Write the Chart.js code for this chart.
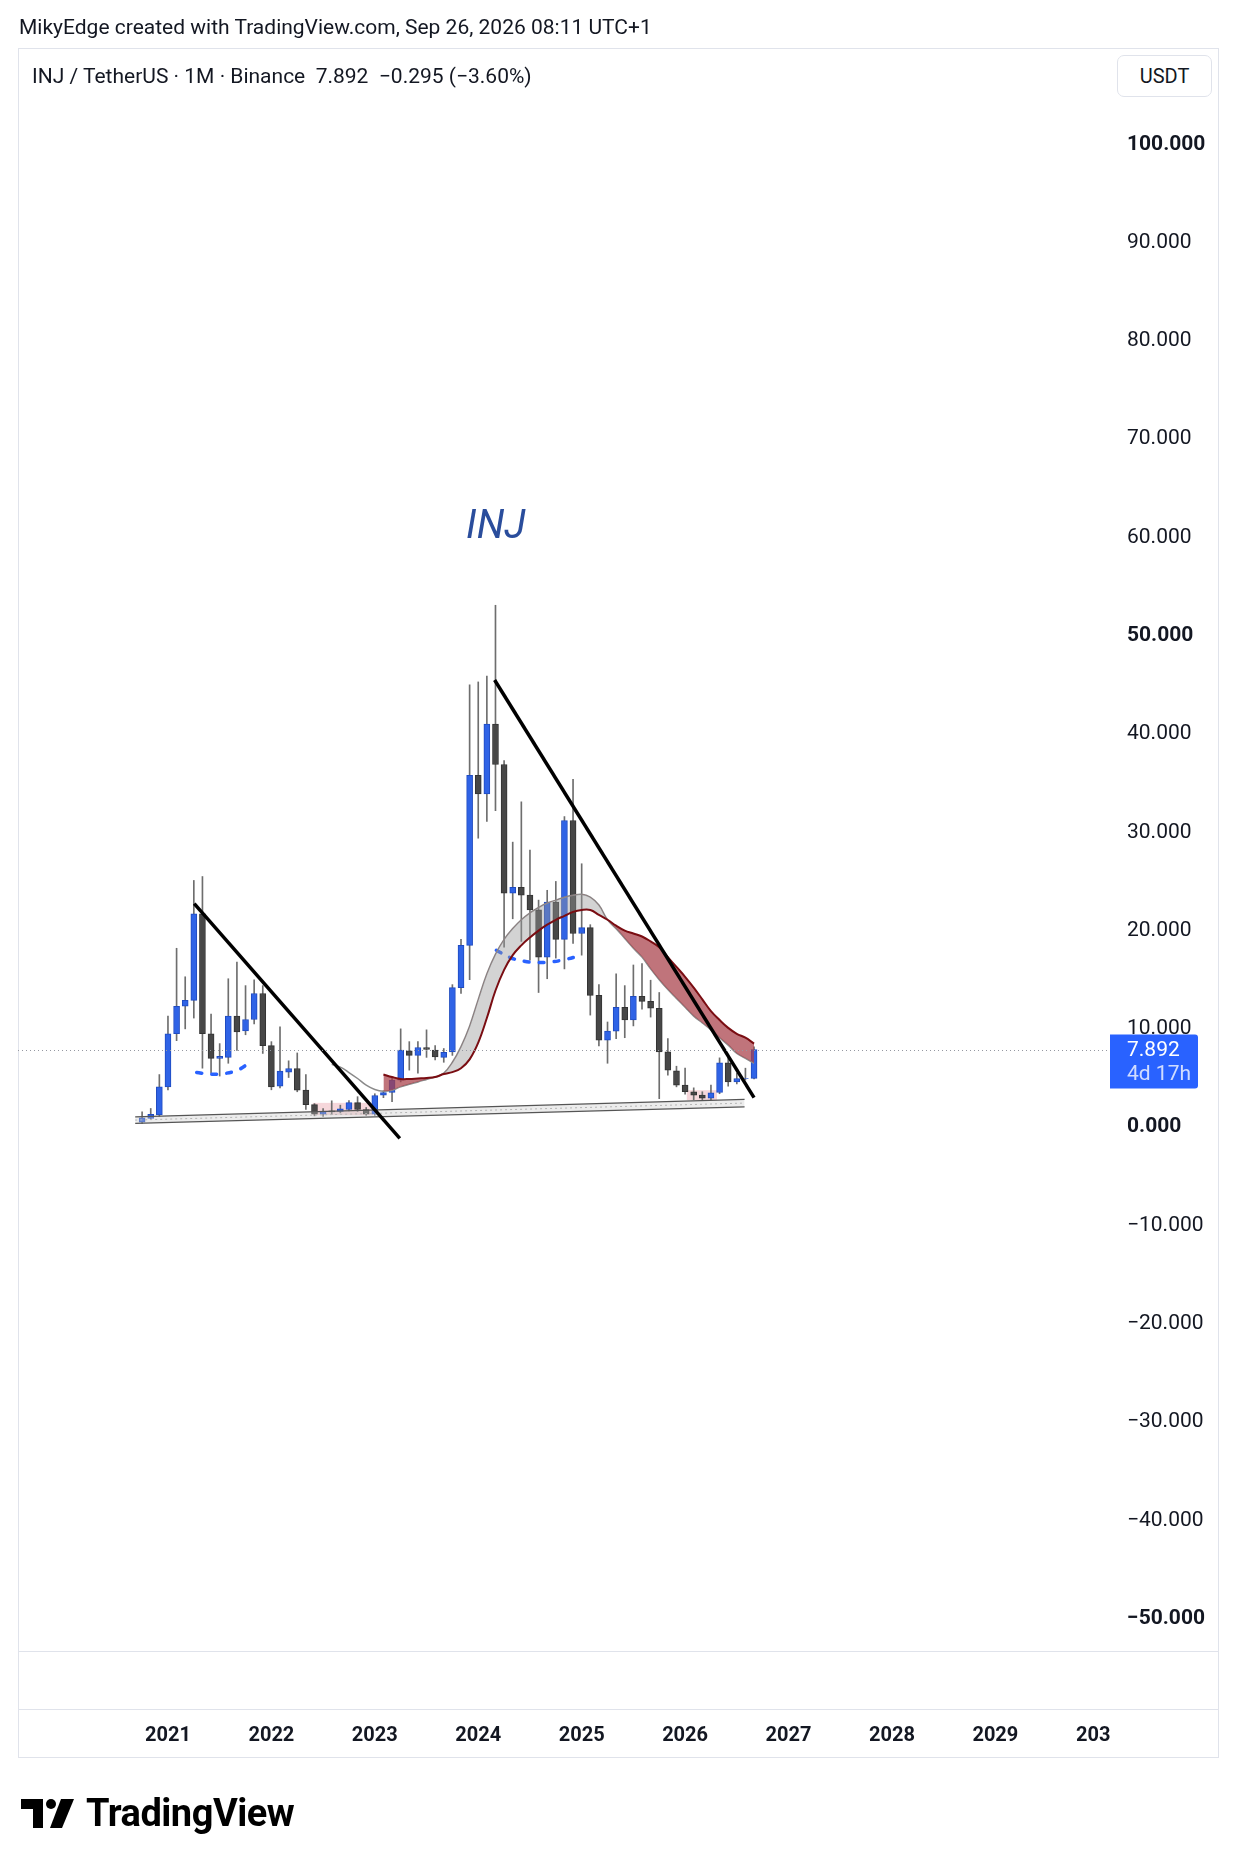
<!DOCTYPE html>
<html>
<head>
<meta charset="utf-8">
<script src="https://cdn.jsdelivr.net/npm/chart.js@4.4.1/dist/chart.umd.min.js"></script>
<style>
  body { margin: 0; background: #fff; font-family: Roboto, "Noto Sans", sans-serif; color: #131722; }
  #wrap { position: relative; width: 1236px; height: 1864px; overflow: hidden; }
  #chart { position: absolute; left: 0; top: 0; }
  .hdr { position: absolute; left: 19px; top: 15px; font-size: 21px; line-height: 24px; white-space: pre; }
  .legend { position: absolute; left: 32px; top: 64px; font-size: 21px; line-height: 24px; white-space: pre; }
  .usdt { position: absolute; left: 1117px; top: 55px; width: 95px; height: 42px; border: 1px solid #e0e3eb;
          border-radius: 7px; box-sizing: border-box; text-align: center; line-height: 40px; font-size: 20px; background: #fff; }
  .logo { position: absolute; left: 21px; top: 1791px; display: flex; align-items: center; }
  .logo span { font-size: 38px; font-weight: bold; margin-left: 12px; letter-spacing: -0.5px; color: #000; }
</style>
</head>
<body>
<div id="wrap">
  <canvas id="chart" width="1236" height="1864"></canvas>
  <div class="hdr">MikyEdge created with TradingView.com, Sep 26, 2026 08:11 UTC+1</div>
  <div class="legend">INJ / TetherUS · 1M · Binance  7.892  −0.295 (−3.60%)</div>
  <div class="usdt">USDT</div>
  <div class="logo">
    <svg width="53" height="29" viewBox="0 0 53 29">
      <path d="M0 0 H22 V29 H12 V10 H0 Z" fill="#000"/>
      <circle cx="30" cy="5" r="5" fill="#000"/>
      <path d="M40 0 H53 L41 29 H29 Z" fill="#000"/>
    </svg>
    <span>TradingView</span>
  </div>
</div>
<script>
// monthly candles, Oct 2020 .. Sep 2026 (x = months since Jan 2021)
var months = ['Oct 2020','Nov 2020','Dec 2020',
  'Jan 2021','Feb 2021','Mar 2021','Apr 2021','May 2021','Jun 2021','Jul 2021','Aug 2021','Sep 2021','Oct 2021','Nov 2021','Dec 2021',
  'Jan 2022','Feb 2022','Mar 2022','Apr 2022','May 2022','Jun 2022','Jul 2022','Aug 2022','Sep 2022','Oct 2022','Nov 2022','Dec 2022',
  'Jan 2023','Feb 2023','Mar 2023','Apr 2023','May 2023','Jun 2023','Jul 2023','Aug 2023','Sep 2023','Oct 2023','Nov 2023','Dec 2023',
  'Jan 2024','Feb 2024','Mar 2024','Apr 2024','May 2024','Jun 2024','Jul 2024','Aug 2024','Sep 2024','Oct 2024','Nov 2024','Dec 2024',
  'Jan 2025','Feb 2025','Mar 2025','Apr 2025','May 2025','Jun 2025','Jul 2025','Aug 2025','Sep 2025','Oct 2025','Nov 2025','Dec 2025',
  'Jan 2026','Feb 2026','Mar 2026','Apr 2026','May 2026','Jun 2026','Jul 2026','Aug 2026','Sep 2026'];
var firstMonth = -3;

var opens = [0.5, 0.9, 1.25,
  4.1, 9.5, 12.3, 12.9, 21.7, 9.5, 7.0, 7.1, 11.3, 9.8, 10.95, 13.6,
  8.3, 4.17, 5.6, 5.97, 3.76, 2.3, 1.32, 1.66, 1.6, 1.8, 2.5, 1.8,
  1.32, 3.26, 3.53, 4.78, 7.76, 7.3, 8.1, 7.83, 7.1, 7.66, 14.2, 18.5,
  35.8, 33.9, 41.0, 36.9, 23.8, 24.4, 23.6, 22.1, 17.3, 22.9, 19.1, 31.2,
  19.7, 20.3, 13.4, 8.85, 9.77, 12.2, 10.9, 13.3, 12.8, 12.1, 7.66, 5.73,
  4.27, 3.6, 3.26, 2.95, 3.53, 6.54, 4.6, 4.95, 4.97];
var highs = [1.55, 1.9, 5.35,
  11.3, 18.2, 15.3, 25.1, 25.5, 11.5, 8.5, 15.1, 16.8, 14.4, 15.0, 14.4,
  8.7, 10.2, 6.75, 7.55, 5.36, 2.4, 1.9, 2.68, 2.24, 2.7, 3.1, 2.0,
  3.4, 3.7, 5.0, 10.0, 8.7, 8.7, 9.9, 8.3, 8.0, 14.5, 19.1, 45.0,
  45.3, 45.9, 53.1, 37.3, 29.0, 33.1, 28.2, 23.1, 24.1, 25.0, 31.6, 35.4,
  26.8, 20.6, 14.5, 10.7, 15.6, 14.4, 16.5, 16.65, 14.95, 13.7, 9.0, 6.2,
  6.0, 4.0, 3.6, 4.27, 7.05, 7.1, 5.5, 6.0, 8.17];
var lows = [0.37, 0.8, 1.1,
  3.8, 8.8, 10.0, 11.1, 6.0, 5.5, 5.2, 6.5, 7.8, 9.4, 10.5, 7.5,
  3.8, 4.0, 5.05, 3.6, 1.8, 1.15, 1.1, 1.3, 1.45, 1.65, 1.6, 1.2,
  1.2, 3.0, 2.6, 4.6, 5.8, 5.5, 7.1, 6.85, 6.6, 7.3, 13.6, 15.0,
  29.4, 31.1, 32.2, 18.3, 21.2, 18.9, 17.0, 13.7, 15.1, 17.2, 16.1, 18.7,
  17.5, 11.4, 8.27, 6.5, 9.0, 9.1, 10.3, 12.0, 11.2, 2.9, 5.3, 4.1,
  3.36, 2.8, 2.75, 2.8, 3.4, 4.17, 4.4, 4.8, 4.9];
var closes = [0.95, 1.3, 4.1,
  9.5, 12.3, 12.9, 21.7, 9.5, 7.0, 7.2, 11.3, 9.7, 10.95, 13.6, 8.3,
  4.1, 5.7, 5.97, 3.76, 2.3, 1.32, 1.55, 1.55, 1.86, 2.5, 1.8, 1.32,
  3.22, 3.53, 4.78, 7.83, 7.3, 8.1, 7.9, 7.15, 7.6, 14.2, 18.5, 35.8,
  33.9, 41.0, 36.9, 23.8, 24.4, 23.6, 22.1, 17.3, 22.9, 19.1, 31.2, 19.7,
  20.3, 13.4, 8.85, 9.77, 12.2, 10.9, 13.3, 12.8, 12.1, 7.66, 5.8, 4.27,
  3.6, 3.26, 2.95, 3.5, 6.54, 4.6, 4.95, 4.97, 7.892];
var lastPrice = 7.892;
var countdown = '4d 17h';

// ribbon of two averages (x = months since Jan 2021)
var fastX = [19, 20, 21, 22, 23, 24, 25, 26, 27, 28, 29, 30, 31, 32, 33, 34, 35, 36, 37, 38, 39, 40, 41, 42, 43, 44,
  45, 46, 47, 48, 49, 50, 51, 52, 53, 54, 55, 56, 57, 58, 59, 60, 61, 62, 63, 64, 65, 66, 67, 68];
var fastY = [6.4, 6.1, 5.56, 4.95, 4.27, 3.83, 3.66, 3.76, 4.1, 4.37, 4.6, 4.85, 5.1, 5.5, 6.6, 8.2, 10.3, 13.0, 15.6, 17.6, 19.1, 20.2, 21.1, 21.8, 22.35, 22.8,
  23.1, 23.4, 23.6, 23.7, 23.4, 22.6, 21.1, 20.2, 19.2, 18.2, 17.3, 16.1, 15.0, 14.0, 13.1, 12.2, 11.3, 10.6, 9.9, 9.1, 8.35, 7.5, 7.0, 6.5];
var slowX = [25, 26, 27, 28, 29, 30, 31, 32, 33, 34, 35, 36, 37, 38, 39, 40, 41, 42, 43, 44,
  45, 46, 47, 48, 49, 50, 51, 52, 53, 54, 55, 56, 57, 58, 59, 60, 61, 62, 63, 64, 65, 66, 67, 68];
var slowY = [5.36, 5.1, 4.9, 4.9, 4.95, 5.0, 5.1, 5.4, 5.6, 6.0, 6.9, 8.6, 11.1, 13.9, 16.0, 17.5, 18.5, 19.3, 20.0, 20.6,
  21.1, 21.5, 21.9, 22.1, 22.1, 21.6, 21.1, 20.5, 20.0, 19.7, 19.4, 18.9, 18.3, 17.3, 16.3, 15.3, 14.2, 13.0, 11.8, 10.9, 10.1, 9.5, 9.1, 8.5];

// drawings
var trend1 = [[3.05, 22.75], [26.9, -1.15]];
var trend2 = [[37.9, 45.5], [68.0, 3.0]];
var supportTop = [[-3.8, 1.05], [66.9, 2.82]];
var supportMid = [[-3.8, 0.72], [66.9, 2.45]];
var supportBottom = [[-3.8, 0.38], [66.9, 2.07]];
var arc1 = [[3.33, 5.56], [4.87, 5.39], [6.53, 5.46], [8.08, 5.8], [9.51, 6.58]];
var arc2 = [[38.1, 18.0], [39.7, 17.26], [41.2, 16.9], [42.8, 16.75], [44.4, 16.8], [46.1, 17.06], [47.6, 17.4]];
var lowZones = [[16.8, 23.8, 1.22, 2.47], [60.2, 63.7, 2.75, 3.76]];
var noteText = 'INJ';
var notePos = [38.05, 61.0];

// axes
var yearTicks = [0, 12, 24, 36, 48, 60, 72, 84, 96, 108];
var yearLabels = ['2021', '2022', '2023', '2024', '2025', '2026', '2027', '2028', '2029', '203\u2007'];
var priceTicks = [-50, -40, -30, -20, -10, 0, 10, 20, 30, 40, 50, 60, 70, 80, 90, 100];
var boldPrices = [-50, 0, 50, 100];

var UP = '#2f63e6', UP_EDGE = '#1f4bc0', DOWN = '#474747', DOWN_EDGE = '#333333';

function pts(arr) { return arr.map(function (p) { return {x: p[0], y: p[1]}; }); }
var xs = months.map(function (m, i) { return i + firstMonth; });
var bodies = xs.map(function (x, i) { return {x: x, y: [opens[i], closes[i]]}; });
var wicks = xs.map(function (x, i) { return {x: x, y: [lows[i], highs[i]]}; });
function up(i) { return closes[i] >= opens[i]; }

function fmt(v) {
  var s = Math.abs(v).toFixed(3);
  return v < 0 ? '\u2212' + s : s;
}

var drawings = {
  id: 'drawings',
  beforeDraw: function (chart) {
    var c = chart.ctx;
    c.save();
    c.strokeStyle = '#e0e3eb';
    c.lineWidth = 1;
    c.strokeRect(18.5, 48.5, 1200, 1709);
    c.beginPath();
    c.moveTo(18, 1651.5); c.lineTo(1218, 1651.5);
    c.moveTo(18, 1709.5); c.lineTo(1218, 1709.5);
    c.stroke();
    c.restore();
  },
  beforeDatasetsDraw: function (chart) {
    var c = chart.ctx, x = chart.scales.x, y = chart.scales.y;
    c.save();
    lowZones.forEach(function (z) {
      var x0 = x.getPixelForValue(z[0]), x1 = x.getPixelForValue(z[1]);
      var y0 = y.getPixelForValue(z[3]), y1 = y.getPixelForValue(z[2]);
      c.fillStyle = 'rgba(232, 150, 160, 0.38)';
      c.fillRect(x0, y0, x1 - x0, y1 - y0);
    });
    c.restore();
  },
  afterDatasetsDraw: function (chart) {
    var c = chart.ctx, x = chart.scales.x, y = chart.scales.y, a = chart.chartArea;
    c.save();
    var py = Math.round(y.getPixelForValue(lastPrice)) + 0.5;
    c.strokeStyle = '#9598a1';
    c.lineWidth = 1;
    c.setLineDash([1, 3]);
    c.beginPath(); c.moveTo(a.left, py); c.lineTo(a.right, py); c.stroke();
    c.setLineDash([]);
    c.font = 'italic 40px Roboto';
    c.fillStyle = '#2a4d9c';
    c.textAlign = 'center';
    c.textBaseline = 'middle';
    c.fillText(noteText, x.getPixelForValue(notePos[0]), y.getPixelForValue(notePos[1]));
    c.restore();
  },
  afterDraw: function (chart) {
    var c = chart.ctx, y = chart.scales.y, a = chart.chartArea;
    var py = y.getPixelForValue(lastPrice);
    c.save();
    c.fillStyle = '#2962ff';
    c.beginPath();
    c.roundRect(a.right, py - 15, 88, 54, [0, 3, 3, 0]);
    c.fill();
    c.font = '21px Roboto';
    c.textBaseline = 'middle';
    c.textAlign = 'left';
    c.fillStyle = '#ffffff';
    c.fillText(fmt(lastPrice), a.right + 17, py + 1);
    c.fillStyle = 'rgba(255,255,255,0.78)';
    c.fillText(countdown, a.right + 17, py + 25);
    c.restore();
  }
};

var ctx = document.getElementById('chart').getContext('2d');
var chart = new Chart(ctx, {
  type: 'bar',
  data: {
    datasets: [
      { type: 'line', data: pts(trend1), borderColor: '#000', borderWidth: 3.5, pointRadius: 0, order: 0 },
      { type: 'line', data: pts(trend2), borderColor: '#000', borderWidth: 3.5, pointRadius: 0, order: 0 },
      // ribbon
      { type: 'line', data: fastX.map(function (v, i) { return {x: v, y: fastY[i]}; }),
        borderColor: '#8a8a8a', borderWidth: 1.5, pointRadius: 0, tension: 0.4, order: 2 },
      { type: 'line', data: slowX.map(function (v, i) { return {x: v, y: slowY[i]}; }),
        borderColor: '#7a0d12', borderWidth: 2, pointRadius: 0, tension: 0.4, order: 1,
        fill: { target: 2, above: 'rgba(168, 62, 72, 0.72)', below: 'rgba(150, 150, 150, 0.42)' } },
      // support channel
      { type: 'line', data: pts(supportTop), borderColor: '#555', borderWidth: 1.3, pointRadius: 0, order: 3 },
      { type: 'line', data: pts(supportBottom), borderColor: '#555', borderWidth: 1.3, pointRadius: 0, order: 3,
        fill: { target: 4, above: 'rgba(200,200,200,0.35)', below: 'rgba(200,200,200,0.35)' } },
      { type: 'line', data: pts(supportMid), borderColor: '#aaa', borderWidth: 1, borderDash: [2, 3], pointRadius: 0, order: 3 },
      // dashed arcs
      { type: 'line', data: pts(arc1), borderColor: '#2962ff', borderWidth: 3.5, borderDash: [5, 10], borderCapStyle: 'round',
        pointRadius: 0, tension: 0.4, order: 3 },
      { type: 'line', data: pts(arc2), borderColor: '#2962ff', borderWidth: 3.5, borderDash: [5, 10], borderCapStyle: 'round',
        pointRadius: 0, tension: 0.4, order: 3 },
      // candles
      { data: bodies, barThickness: 6, grouped: false, borderWidth: 1, borderSkipped: false, order: 5,
        backgroundColor: function (c) { return up(c.dataIndex) ? UP : DOWN; },
        borderColor: function (c) { return up(c.dataIndex) ? UP_EDGE : DOWN_EDGE; } },
      { data: wicks, barThickness: 1, grouped: false, backgroundColor: '#6e6e6e', borderWidth: 0, order: 6 }
    ]
  },
  options: {
    responsive: false,
    animation: false,
    devicePixelRatio: 1,
    layout: { padding: { left: 18, top: 48, right: 18, bottom: 107 } },
    plugins: { legend: { display: false }, tooltip: { enabled: false } },
    scales: {
      x: {
        type: 'linear', position: 'bottom', min: -17.4, max: 109.3, offset: false,
        grid: { display: false, drawTicks: false }, border: { display: false },
        afterBuildTicks: function (axis) { axis.ticks = yearTicks.map(function (v) { return {value: v}; }); },
        afterFit: function (axis) { axis.height = 106; },
        ticks: {
          padding: 73, maxRotation: 0, autoSkip: false, color: '#131722',
          font: { family: 'Roboto', size: 20, weight: 'bold' },
          callback: function (v) { var k = yearTicks.indexOf(v); return k >= 0 ? yearLabels[k] : ''; }
        }
      },
      y: {
        type: 'linear', position: 'right', min: -53.3, max: 109.8,
        grid: { display: false, drawTicks: false }, border: { display: false },
        afterBuildTicks: function (axis) { axis.ticks = priceTicks.map(function (v) { return {value: v}; }); },
        afterFit: function (axis) { axis.width = 108; },
        ticks: {
          padding: 17, color: '#131722',
          font: function (c) {
            var v = c.tick ? c.tick.value : 0;
            return { family: 'Roboto', size: 21, weight: boldPrices.indexOf(v) >= 0 ? 'bold' : 'normal' };
          },
          callback: function (v) { return fmt(v); }
        }
      }
    }
  },
  plugins: [drawings]
});
</script>
</body>
</html>
